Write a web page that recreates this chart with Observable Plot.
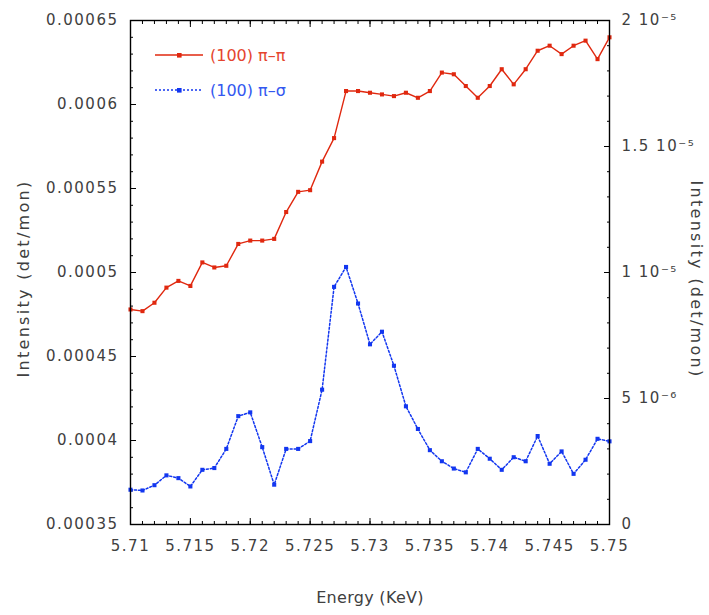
<!DOCTYPE html>
<html><head><meta charset="utf-8">
<script src="https://cdn.jsdelivr.net/npm/d3@7"></script>
<script src="https://cdn.jsdelivr.net/npm/@observablehq/plot@0.6"></script>
<style>
body{margin:0;background:#fff;}
#wrap{position:relative;width:709px;height:615px;font-family:"DejaVu Sans",sans-serif;}
.leg{position:absolute;left:155px;height:20px;display:flex;align-items:center;font-size:16px;white-space:nowrap;}
.leg svg{margin-right:7px;}
</style></head><body><div id="wrap"></div>
<script>
// Energy (KeV)
const energy = [5.710,5.711,5.712,5.713,5.714,5.715,5.716,5.717,5.718,5.719,
  5.720,5.721,5.722,5.723,5.724,5.725,5.726,5.727,5.728,5.729,
  5.730,5.731,5.732,5.733,5.734,5.735,5.736,5.737,5.738,5.739,
  5.740,5.741,5.742,5.743,5.744,5.745,5.746,5.747,5.748,5.749,5.750];
// (100) pi-pi, left axis
const piPi = [0.000478,0.000477,0.000482,0.000491,0.000495,0.000492,0.000506,0.000503,0.000504,0.000517,
  0.000519,0.000519,0.000520,0.000536,0.000548,0.000549,0.000566,0.000580,0.000608,0.000608,
  0.000607,0.000606,0.000605,0.000607,0.000604,0.000608,0.000619,0.000618,0.000611,0.000604,
  0.000611,0.000621,0.000612,0.000621,0.000632,0.000635,0.000630,0.000635,0.000638,0.000627,0.000640];
// (100) pi-sigma, right axis
const piSigma = [1.38e-6,1.35e-6,1.56e-6,1.95e-6,1.84e-6,1.51e-6,2.17e-6,2.24e-6,3.00e-6,4.30e-6,
  4.45e-6,3.07e-6,1.58e-6,3.00e-6,3.00e-6,3.31e-6,5.35e-6,9.43e-6,10.22e-6,8.77e-6,
  7.15e-6,7.65e-6,6.30e-6,4.69e-6,3.79e-6,2.95e-6,2.51e-6,2.22e-6,2.07e-6,3.00e-6,
  2.61e-6,2.17e-6,2.67e-6,2.51e-6,3.51e-6,2.41e-6,2.90e-6,2.01e-6,2.57e-6,3.40e-6,3.30e-6];

const seriesNames = ["(100) π–π", "(100) π–σ"];
const xDomain = [5.71, 5.75];
const xTicks = [5.71, 5.715, 5.72, 5.725, 5.73, 5.735, 5.74, 5.745, 5.75];
const xTickLabels = ["5.71","5.715","5.72","5.725","5.73","5.735","5.74","5.745","5.75"];
const leftDomain = [0.00035, 0.00065];
const leftTicks = [0.00035, 0.0004, 0.00045, 0.0005, 0.00055, 0.0006, 0.00065];
const leftTickLabels = ["0.00035","0.0004","0.00045","0.0005","0.00055","0.0006","0.00065"];
const rightDomain = [0, 2e-5];
const rightTicks = [0, 5e-6, 1e-5, 1.5e-5, 2e-5];
const rightTickLabels = ["0","5 10⁻⁶","1 10⁻⁵","1.5 10⁻⁵","2 10⁻⁵"];
const xLabel = "Energy (KeV)";
const yLabel = "Intensity (det/mon)";
const y2Label = "Intensity (det/mon)";

const RED = "#e0280f", BLUE = "#1236f0";
const TEXT = "#404040";

const toLeft = v => leftDomain[0] + (v - rightDomain[0]) * (leftDomain[1] - leftDomain[0]) / (rightDomain[1] - rightDomain[0]);
const near = (arr, d) => arr.findIndex(p => Math.abs(p - d) < 1e-12);

const redRows = energy.map((e, i) => ({e, v: piPi[i]}));
const blueRows = energy.map((e, i) => ({e, v: toLeft(piSigma[i])}));

const xMinor = d3.range(0, 41).map(i => xDomain[0] + i * 0.001);
const leftMinor = d3.range(0, 31).map(i => leftDomain[0] + i * 0.00001);
const rightMinor = d3.range(0, 21).map(i => toLeft(i * 1e-6));
const rightPos = rightTicks.map(toLeft);

const chart = Plot.plot({
  width: 709, height: 615,
  marginLeft: 130, marginRight: 100, marginTop: 20, marginBottom: 91,
  style: {fontFamily: '"DejaVu Sans", sans-serif', background: "white", overflow: "visible"},
  x: {domain: xDomain},
  y: {domain: leftDomain},
  marks: [
    // ticks
    Plot.axisX(xTicks, {anchor: "bottom", tickSize: -6, tickPadding: 22, stroke: "black", fill: TEXT, fontSize: 15,
      tickFormat: d => xTickLabels[near(xTicks, d)], label: null}),
    Plot.axisX(xMinor, {anchor: "bottom", tickSize: -3, stroke: "black", fill: "none", label: null}),
    Plot.axisX(xTicks, {anchor: "top", tickSize: -6, stroke: "black", fill: "none", label: null}),
    Plot.axisX(xMinor, {anchor: "top", tickSize: -3, stroke: "black", fill: "none", label: null}),
    Plot.axisY(leftTicks, {anchor: "left", tickSize: -6, tickPadding: 18, stroke: "black", fill: TEXT, fontSize: 15,
      tickFormat: d => leftTickLabels[near(leftTicks, d)], label: null}),
    Plot.axisY(leftMinor, {anchor: "left", tickSize: -3, stroke: "black", fill: "none", label: null}),
    Plot.axisY(rightPos, {anchor: "right", tickSize: -6, tickPadding: 18, stroke: "black", fill: TEXT, fontSize: 15,
      tickFormat: d => rightTickLabels[near(rightPos, d)], label: null}),
    Plot.axisY(rightMinor, {anchor: "right", tickSize: -3, stroke: "black", fill: "none", label: null}),
    // axis titles
    Plot.text([xLabel], {frameAnchor: "bottom", dy: 78, text: d => d, fontSize: 16, fill: TEXT, textAnchor: "middle"}),
    Plot.text([yLabel], {frameAnchor: "left", dx: -107, dy: 6, rotate: -90, text: d => d, fontSize: 16, fill: TEXT, textAnchor: "middle"}),
    Plot.text([y2Label], {frameAnchor: "right", dx: 87, dy: 7, rotate: 90, text: d => d, fontSize: 16, fill: TEXT, textAnchor: "middle"}),
    // data
    Plot.line(redRows, {x: "e", y: "v", stroke: RED, strokeWidth: 1.4}),
    Plot.dot(redRows, {x: "e", y: "v", symbol: "square", r: 2.3, fill: RED}),
    Plot.line(blueRows, {x: "e", y: "v", stroke: BLUE, strokeWidth: 1.5, strokeDasharray: "2,2"}),
    Plot.dot(blueRows, {x: "e", y: "v", symbol: "square", r: 2.3, fill: BLUE}),
    Plot.frame({stroke: "black", strokeWidth: 1.4})
  ]
});

// typographic tracking to match the reference
d3.select(chart).selectAll('g[aria-label$="tick label"] text').style("letter-spacing", "1.5px");
d3.select(chart).selectAll('g[aria-label="text"] text').each(function() {
  const t = this.textContent;
  d3.select(this).style("letter-spacing", t === xLabel ? "0.3px" : "2.3px");
});

const wrap = document.getElementById("wrap");
wrap.appendChild(chart);

const legendItems = [
  {name: seriesNames[0], color: RED, textColor: "#e5452e", dash: null, top: 45},
  {name: seriesNames[1], color: BLUE, textColor: "#3358f0", dash: "2,2", top: 80}
];
for (const it of legendItems) {
  const div = document.createElement("div");
  div.className = "leg";
  div.style.top = it.top + "px";
  div.style.color = it.textColor;
  div.innerHTML = `<svg width="48" height="10"><line x1="0" x2="48" y1="5" y2="5" stroke="${it.color}" stroke-width="1.5" ${it.dash ? `stroke-dasharray="${it.dash}"` : ""}/><rect x="22" y="3" width="4.6" height="4.6" fill="${it.color}"/></svg><span></span>`;
  div.querySelector("span").textContent = it.name;
  wrap.appendChild(div);
}
</script>
</body></html>
